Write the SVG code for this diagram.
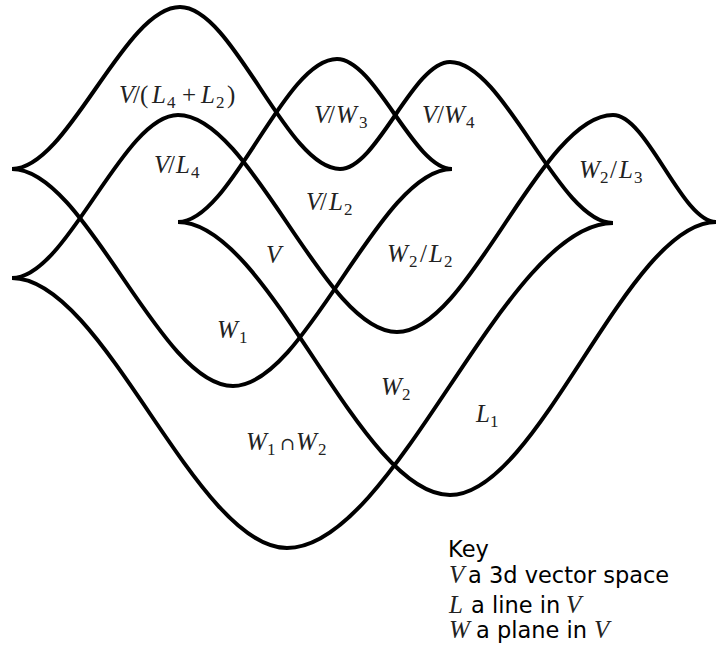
<svg xmlns="http://www.w3.org/2000/svg" width="717" height="646" viewBox="0 0 717 646">
<style>
.s{fill:none;stroke:#000;stroke-width:4;stroke-linecap:butt;stroke-linejoin:round}
.m{font-family:"Liberation Serif","DejaVu Serif",serif;font-size:25px;fill:#222}
.i{font-style:italic}
.b{font-size:17px}
.cap{font-family:"DejaVu Serif",serif;font-size:18px}
.k{font-family:"DejaVu Sans","Liberation Sans",sans-serif;font-size:22.5px;fill:#000}
.ki{font-family:"Liberation Serif","DejaVu Serif",serif;font-style:italic;font-size:25px;fill:#222}
</style>
<rect width="717" height="646" fill="#fff"/>
<g id="connectors">
<path id="c1" class="s" d="M12,169 C68,169 124,7 180,7 C233.3,7 286.7,169 340,169 C376.7,169 413.3,62 450,62 C504.3,62 558.7,223 613,223"/>
<path id="c2" class="s" d="M12,169 C85.7,169 159.3,386 233,386 C306,386 379,169 452,169"/>
<path id="c3" class="s" d="M12,278 C67.3,278 122.7,115 178,115 C251,115 324,332 397,332 C469,332 541,115 613,115 C647.3,115 681.7,222 716,222"/>
<path id="c4" class="s" d="M178,222 C231,222 284,59 337,59 C375.3,59 413.7,169 452,169"/>
<path id="c5" class="s" d="M178,222 C268.7,222 359.3,495 450,495 C538.7,495 627.3,222 716,222"/>
<path id="c6" class="s" d="M12,278 C103.7,278 195.3,548 287,548 C395.7,548 504.3,223 613,223"/>
</g>
<g id="n-VL4L2"><text class="m"><tspan class="i" x="119" y="103">V</tspan><tspan x="133" y="103">/(</tspan><tspan class="i" x="152" y="103">L</tspan><tspan class="b" x="167" y="108">4</tspan><tspan x="182" y="103">+</tspan><tspan class="i" x="201" y="103">L</tspan><tspan class="b" x="216" y="108">2</tspan><tspan x="227" y="103">)</tspan></text></g>
<g id="n-VL4"><text class="m"><tspan class="i" x="154" y="173">V</tspan><tspan x="168" y="173">/</tspan><tspan class="i" x="176" y="173">L</tspan><tspan class="b" x="191" y="178">4</tspan></text></g>
<g id="n-VW3"><text class="m"><tspan class="i" x="314" y="123">V</tspan><tspan x="328" y="123">/</tspan><tspan class="i" x="336" y="123">W</tspan><tspan class="b" x="359" y="128">3</tspan></text></g>
<g id="n-VW4"><text class="m"><tspan class="i" x="422" y="123">V</tspan><tspan x="437" y="123">/</tspan><tspan class="i" x="444" y="123">W</tspan><tspan class="b" x="466" y="128">4</tspan></text></g>
<g id="n-VL2"><text class="m"><tspan class="i" x="306" y="210">V</tspan><tspan x="320" y="210">/</tspan><tspan class="i" x="329" y="210">L</tspan><tspan class="b" x="344" y="215">2</tspan></text></g>
<g id="n-V"><text class="m"><tspan class="i" x="266" y="263">V</tspan></text></g>
<g id="n-W2L2"><text class="m"><tspan class="i" x="387" y="262">W</tspan><tspan class="b" x="409" y="267">2</tspan><tspan x="420" y="262">/</tspan><tspan class="i" x="429" y="262">L</tspan><tspan class="b" x="444" y="267">2</tspan></text></g>
<g id="n-W1"><text class="m"><tspan class="i" x="217" y="338">W</tspan><tspan class="b" x="239" y="343">1</tspan></text></g>
<g id="n-W2"><text class="m"><tspan class="i" x="381" y="395">W</tspan><tspan class="b" x="402" y="400">2</tspan></text></g>
<g id="n-L1"><text class="m"><tspan class="i" x="476" y="422">L</tspan><tspan class="b" x="490" y="427">1</tspan></text></g>
<g id="n-W1W2"><text class="m"><tspan class="i" x="246" y="450">W</tspan><tspan class="b" x="267" y="455">1</tspan><tspan class="cap" x="280" y="450">∩</tspan><tspan class="i" x="296" y="450">W</tspan><tspan class="b" x="318" y="455">2</tspan></text></g>
<g id="n-W2L3"><text class="m"><tspan class="i" x="579" y="178">W</tspan><tspan class="b" x="600" y="183">2</tspan><tspan x="610" y="178">/</tspan><tspan class="i" x="619" y="178">L</tspan><tspan class="b" x="634" y="183">3</tspan></text></g>
<g id="key">
<text class="k" x="448" y="557">Key</text>
<text x="449" y="583"><tspan class="ki">V</tspan><tspan class="k" x="468">a 3d vector space</tspan></text>
<text x="449" y="613"><tspan class="ki">L</tspan><tspan class="k" x="471">a line in </tspan><tspan class="ki" x="566">V</tspan></text>
<text x="449" y="638"><tspan class="ki">W</tspan><tspan class="k" x="476">a plane in </tspan><tspan class="ki" x="594">V</tspan></text>
</g>
</svg>
